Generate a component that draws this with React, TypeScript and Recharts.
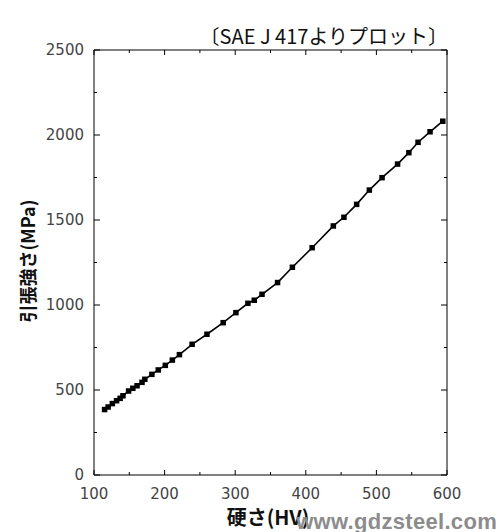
import React from 'react';
import { LineChart, Line, XAxis, YAxis } from 'recharts';

const hardnessHV = [115, 120, 126, 132, 137, 141, 149, 155, 161, 168, 172, 182, 191, 201, 211, 221, 239, 260, 283, 301, 318, 327, 338, 360, 381, 409, 439, 454, 472, 490, 508, 530, 546, 559, 576, 594];
const tensileMPa = [385, 400, 420, 437, 451, 466, 494, 510, 525, 545, 563, 592, 618, 645, 676, 708, 769, 828, 896, 955, 1010, 1028, 1063, 1132, 1222, 1337, 1465, 1516, 1592, 1676, 1749, 1829, 1896, 1957, 2019, 2081];

const xTicks = [100, 150, 200, 250, 300, 350, 400, 450, 500, 550, 600];
const yTicks = [0, 250, 500, 750, 1000, 1250, 1500, 1750, 2000, 2250, 2500];
const xMajor = [100, 200, 300, 400, 500, 600];
const yMajor = [0, 500, 1000, 1500, 2000, 2500];

const titleText = '〔SAE J 417よりプロット〕';
const xLabel = '硬さ(HV)';
const yLabel = '引張強さ(MPa)';
const watermark = 'www.gdzsteel.com';

const data = hardnessHV.map((hv, i) => ({ hv, mpa: tensileMPa[i] }));

const tickFont = { fontFamily: 'DejaVu Sans', fontSize: 15, fill: '#444' };

const BottomTick = (p: any) => {
  const v = p.payload.value;
  const major = xMajor.includes(v);
  return (
    <g>
      <line x1={p.x} x2={p.x} y1={p.y} y2={p.y - (major ? 5 : 3)} stroke="#000" strokeWidth={1} />
      {major && (
        <text x={p.x} y={p.y + 24} textAnchor="middle" {...tickFont}>{v}</text>
      )}
    </g>
  );
};

const TopTick = (p: any) => {
  const v = p.payload.value;
  const major = xMajor.includes(v);
  return <line x1={p.x} x2={p.x} y1={p.y} y2={p.y + (major ? 5 : 3)} stroke="#000" strokeWidth={1} />;
};

const LeftTick = (p: any) => {
  const v = p.payload.value;
  const major = yMajor.includes(v);
  return (
    <g>
      <line x1={p.x} x2={p.x + (major ? 6 : 3)} y1={p.y} y2={p.y} stroke="#000" strokeWidth={1} />
      {major && (
        <text x={p.x - 10} y={p.y + 5} textAnchor="end" {...tickFont}>{v}</text>
      )}
    </g>
  );
};

const RightTick = (p: any) => {
  const v = p.payload.value;
  const major = yMajor.includes(v);
  return <line x1={p.x} x2={p.x - (major ? 6 : 3)} y1={p.y} y2={p.y} stroke="#000" strokeWidth={1} />;
};

const SquareDot = (p: any) => {
  if (p.cx == null || p.cy == null) return null;
  return <rect key={p.index} x={p.cx - 2.75} y={p.cy - 2.75} width={5.5} height={5.5} fill="#000" />;
};

export default function App() {
  const W = 500;
  const H = 532;
  return (
    <div style={{ position: 'absolute', left: 0, top: 0, width: W, height: H, background: '#fff' }}>
      <LineChart
        width={W}
        height={H}
        data={data}
        margin={{ top: 49, right: 52, bottom: 56, left: 93 }}
      >
        <XAxis
          xAxisId="b"
          dataKey="hv"
          type="number"
          domain={[100, 600]}
          allowDataOverflow
          ticks={xTicks}
          interval={0}
          height={1}
          tickSize={0}
          tickMargin={0}
          tickLine={false}
          axisLine={{ stroke: '#000', strokeWidth: 1 }}
          tick={<BottomTick />}
        />
        <XAxis
          xAxisId="t"
          orientation="top"
          dataKey="hv"
          type="number"
          domain={[100, 600]}
          allowDataOverflow
          ticks={xTicks}
          interval={0}
          height={1}
          tickSize={0}
          tickMargin={0}
          tickLine={false}
          axisLine={{ stroke: '#000', strokeWidth: 1 }}
          tick={<TopTick />}
        />
        <YAxis
          yAxisId="l"
          type="number"
          domain={[0, 2500]}
          allowDataOverflow
          ticks={yTicks}
          interval={0}
          width={1}
          tickSize={0}
          tickMargin={0}
          tickLine={false}
          axisLine={{ stroke: '#000', strokeWidth: 1 }}
          tick={<LeftTick />}
        />
        <YAxis
          yAxisId="r"
          orientation="right"
          type="number"
          domain={[0, 2500]}
          allowDataOverflow
          ticks={yTicks}
          interval={0}
          width={1}
          tickSize={0}
          tickMargin={0}
          tickLine={false}
          axisLine={{ stroke: '#000', strokeWidth: 1 }}
          tick={<RightTick />}
        />
        <Line
          xAxisId="b"
          yAxisId="l"
          dataKey="mpa"
          type="linear"
          stroke="#000"
          strokeWidth={1.6}
          dot={<SquareDot />}
          activeDot={false}
          isAnimationActive={false}
        />
      </LineChart>
      <svg width={W} height={H} style={{ position: 'absolute', left: 0, top: 0, pointerEvents: 'none' }}>
        <text x={448} y={44} textAnchor="end" fontFamily="Noto Sans CJK JP" fontSize={20} fill="#111">{titleText}</text>
        <text x={268} y={525} textAnchor="middle" fontFamily="Noto Sans CJK JP" fontWeight="bold" fontSize={20} fill="#111">{xLabel}</text>
        <text x={35} y={261} textAnchor="middle" fontFamily="Noto Sans CJK JP" fontWeight="bold" fontSize={18} fill="#111" transform="rotate(-90 35 261)">{yLabel}</text>
        <text x={497} y={529} textAnchor="end" fontFamily="Liberation Sans" fontWeight="bold" fontSize={22} fill="#8c8c8c" letterSpacing={0.3}>{watermark}</text>
      </svg>
    </div>
  );
}
